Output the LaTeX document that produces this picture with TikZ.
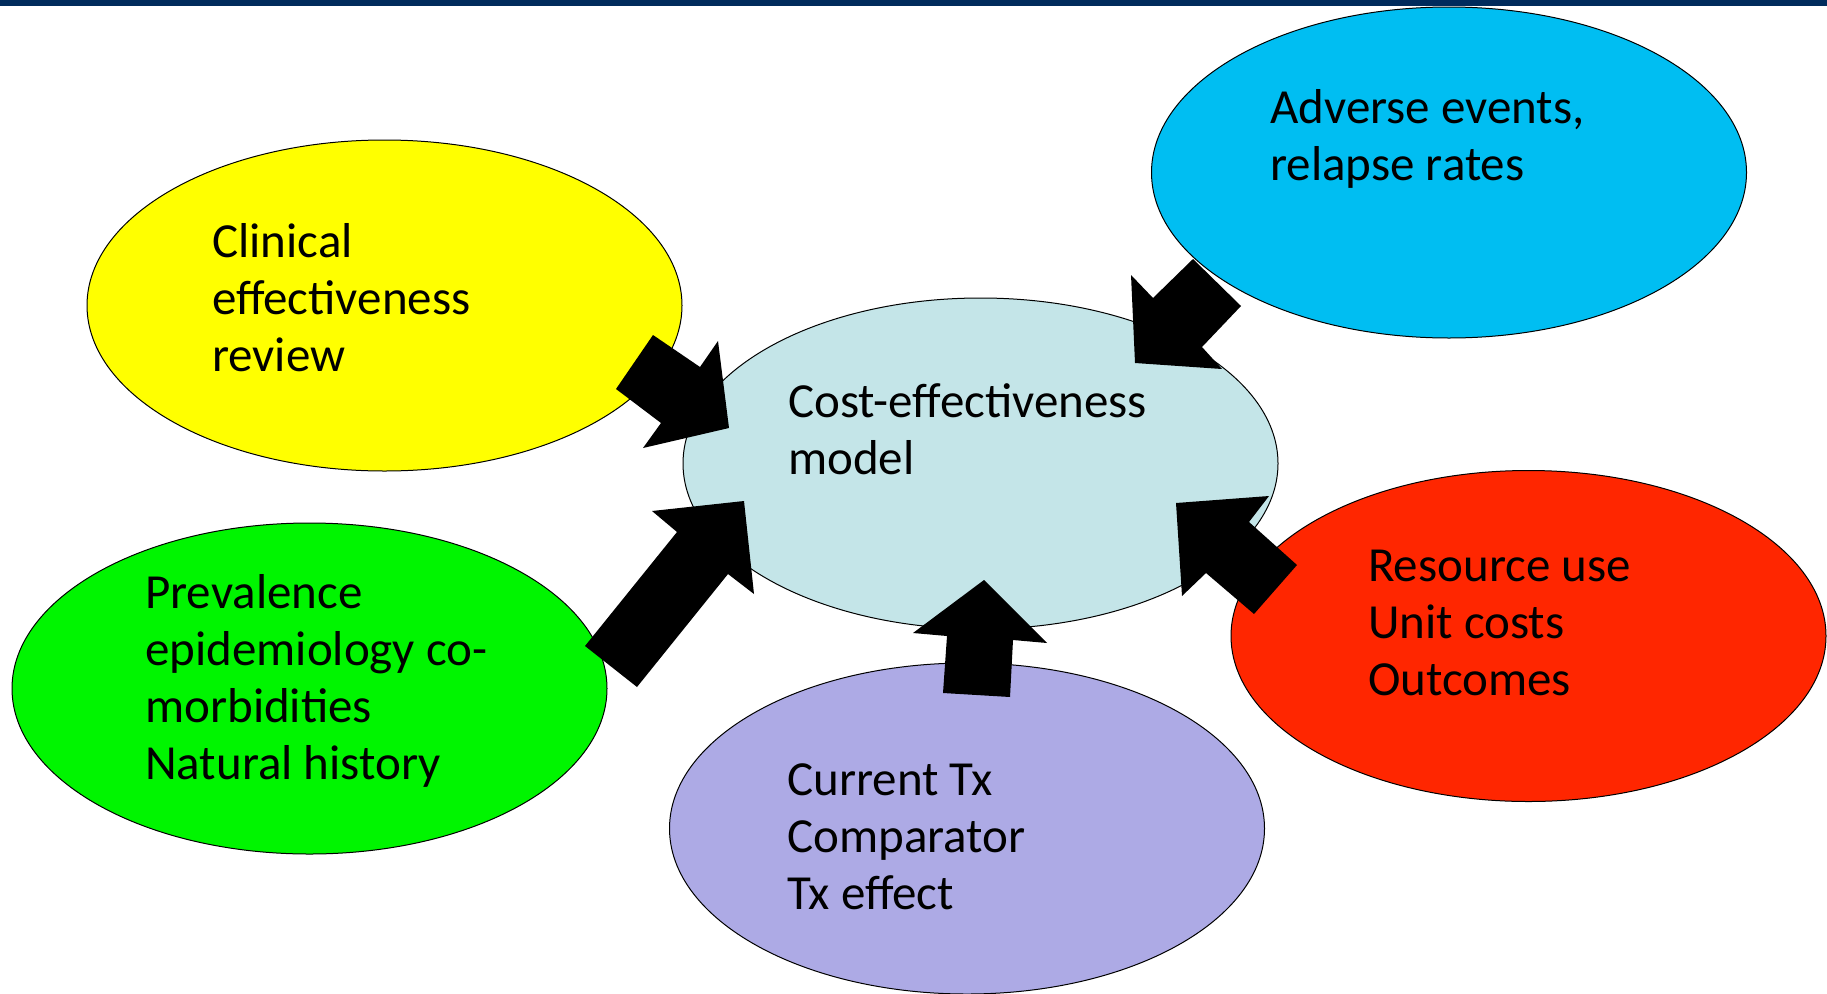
\documentclass[tikz,border=0pt]{standalone}
\usepackage{fontspec}
\setmainfont{Carlito}
\usetikzlibrary{shapes.geometric}
\definecolor{barblue}{RGB}{0,43,92}
\definecolor{cyellow}{RGB}{255,255,0}
\definecolor{cblue}{RGB}{0,190,242}
\definecolor{clight}{RGB}{196,229,232}
\definecolor{cgreen}{RGB}{0,245,0}
\definecolor{cred}{RGB}{255,38,0}
\definecolor{cpurple}{RGB}{173,170,229}
\newcommand{\lns}[1]{\begin{tabular}[t]{@{}l@{}}#1\end{tabular}}
\begin{document}
\begin{tikzpicture}[x=1pt,y=-1pt,
  bubble/.style={ellipse, draw=black, line width=1pt, minimum width=595pt, minimum height=331pt, inner sep=0pt},
  label/.style={anchor=base west, inner sep=0pt, font=\fontsize{49}{57}\selectfont},
  blockarrow/.style={fill=black, draw=none}]
\useasboundingbox (0,0) rectangle (1827,993);
\fill[barblue] (0,0) rectangle (1827,6);
\node[bubble, fill=cyellow] (yel) at (384.5,305.5) {};
\node[bubble, fill=cblue] (blu) at (1449,172.5) {};
\node[bubble, fill=clight] (cem) at (980.5,463.5) {};
\node[bubble, fill=cgreen] (grn) at (309.5,688.5) {};
\node[bubble, fill=cred] (red) at (1528.5,636) {};
\node[bubble, fill=cpurple] (pur) at (967,828.5) {};
\node[label] (tyel) at (212,257) {\lns{Clinical\\effectiveness\\review}};
\node[label] (tcem) at (788,417) {\lns{Cost-effectiveness\\model}};
\node[label] (tgrn) at (145,608) {\lns{Prevalence\\epidemiology co-\\morbidities\\Natural history}};
\node[label] (tred) at (1368,581) {\lns{Resource use\\Unit costs\\Outcomes}};
\node[label] (tpur) at (787,795) {\lns{Current Tx\\Comparator\\Tx effect}};
\node[label] (tblu) at (1270,123) {\lns{Adverse events,\\relapse rates}};
\fill[blockarrow] (653,335) -- (700,367) -- (718,341) -- (729,428) -- (643,448) -- (661,423) -- (616,389) -- cycle;
\fill[blockarrow] (1193,259) -- (1241,306) -- (1202,347) -- (1222,369) -- (1135,363) -- (1131,275) -- (1153,298) -- cycle;
\fill[blockarrow] (652,511) -- (744,501) -- (754,594) -- (728,574) -- (637,687) -- (585,646) -- (677,532) -- cycle;
\fill[blockarrow] (984,580) -- (1047,643) -- (1013,640) -- (1010,697) -- (943,693) -- (947,636) -- (913,633) -- cycle;
\fill[blockarrow] (1176,503) -- (1269,496) -- (1249,522) -- (1297,565) -- (1254,614) -- (1206,573) -- (1182,596) -- cycle;
\end{tikzpicture}
\end{document}
